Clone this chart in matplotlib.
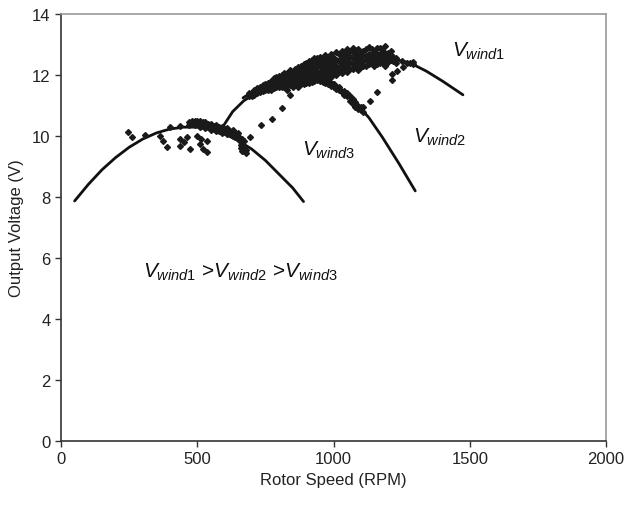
import matplotlib
matplotlib.use("Agg")
import matplotlib.pyplot as plt

plt.rcParams["font.family"] = ["Liberation Sans", "DejaVu Sans"]
plt.rcParams["mathtext.fontset"] = "custom"
plt.rcParams["mathtext.it"] = "Liberation Sans:italic"
plt.rcParams["mathtext.rm"] = "Liberation Sans"

#######################################################################################
# DATA
#######################################################################################
# fitted curves
wind1_rpm = [668, 720, 780, 850, 920, 1000, 1080, 1160, 1230, 1280, 1340, 1400, 1475]
wind1_v = [11.25, 11.55, 11.85, 12.1, 12.3, 12.48, 12.6, 12.6, 12.5, 12.4, 12.13, 11.8, 11.35]

wind2_rpm = [590, 630, 670, 730, 800, 870, 940, 1000, 1040, 1090, 1130, 1180, 1240, 1300]
wind2_v = [10.25, 10.8, 11.15, 11.5, 11.75, 11.92, 11.97, 11.75, 11.45, 11.0, 10.6, 9.95, 9.1, 8.2]

wind3_rpm = [50, 100, 150, 200, 250, 300, 350, 400, 450, 500, 550, 600, 650, 700,
             750, 800, 850, 890]
wind3_v = [7.87, 8.41, 8.89, 9.29, 9.63, 9.9, 10.1, 10.23, 10.29, 10.29, 10.21, 10.07,
           9.85, 9.57, 9.2, 8.75, 8.3, 7.85]

# measured points, grouped by rpm column
meas_wind3 = {
    246: [10.13], 260: [9.97], 308: [10.03], 363: [10.0], 374: [9.84], 389: [9.64],
    400: [10.3], 437: [10.33, 9.9, 9.68], 450: [9.8], 462: [9.97], 473: [9.57],
    470: [10.35, 10.45], 480: [10.4, 10.5], 490: [10.35, 10.45, 10.5], 499: [10.0],
    500: [10.38, 10.48], 510: [10.3, 10.4, 10.5, 9.74], 515: [9.9], 521: [9.57],
    520: [10.33, 10.45], 530: [10.25, 10.35, 10.45], 536: [9.48, 9.84],
    540: [10.3, 10.4], 550: [10.2, 10.3, 10.4], 560: [10.22, 10.33],
    570: [10.15, 10.25, 10.35], 580: [10.18, 10.28], 590: [10.1, 10.2, 10.3],
    600: [10.12, 10.22], 610: [10.05, 10.15, 10.25], 620: [10.08, 10.18],
    630: [10.0, 10.1, 10.2], 640: [9.98, 10.1], 650: [9.9, 10.0, 10.1],
    660: [9.6, 9.7, 9.8], 665: [9.9, 9.5], 670: [9.5, 9.65, 9.85], 680: [9.45, 9.55],
}
meas_transition = {
    694: [9.98], 735: [10.36], 774: [10.56], 811: [10.93], 840: [11.36],
    1134: [11.15], 1159: [11.43], 1214: [11.82, 12.02], 1233: [12.13],
    1255: [12.26], 1281: [12.4],
}
meas_wind12 = {
    690: [11.3, 11.4], 700: [11.32, 11.42], 710: [11.35, 11.45, 11.5],
    720: [11.4, 11.5, 11.56], 730: [11.45, 11.55, 11.6], 740: [11.48, 11.58, 11.66],
    750: [11.5, 11.6, 11.7], 760: [11.52, 11.64, 11.75], 770: [11.5, 11.55, 11.7, 11.8],
    780: [11.58, 11.68, 11.8, 11.9], 790: [11.6, 11.75, 11.85, 11.95],
    800: [11.62, 11.72, 11.8, 11.9, 11.98], 810: [11.6, 11.7, 11.85, 11.95, 12.0],
    820: [11.62, 11.75, 11.88, 12.0, 12.08], 830: [11.5, 11.65, 11.8, 11.9, 12.05],
    840: [11.68, 11.78, 11.92, 12.05, 12.15], 850: [11.6, 11.7, 11.85, 12.0, 12.1],
    860: [11.72, 11.82, 11.95, 12.08, 12.2], 870: [11.6, 11.75, 11.9, 12.0, 12.15, 12.25],
    880: [11.72, 11.8, 11.95, 12.05, 12.18, 12.3],
    890: [11.7, 11.85, 12.0, 12.1, 12.25, 12.35],
    900: [11.75, 11.88, 12.02, 12.15, 12.28, 12.4],
    910: [11.75, 11.9, 12.05, 12.2, 12.3, 12.45],
    920: [11.78, 11.92, 12.08, 12.22, 12.35, 12.5],
    930: [11.8, 11.95, 12.1, 12.25, 12.4, 12.55],
    940: [11.82, 11.98, 12.12, 12.28, 12.42, 12.56],
    950: [11.8, 11.95, 12.1, 12.3, 12.45, 12.6],
    960: [11.78, 11.9, 12.02, 12.18, 12.4, 12.55],
    970: [11.75, 11.9, 12.05, 12.2, 12.35, 12.5, 12.65],
    980: [11.7, 11.8, 12.0, 12.15, 12.3, 12.45, 12.6],
    990: [11.65, 11.95, 12.1, 12.25, 12.4, 12.6, 12.7],
    1000: [11.6, 11.7, 12.05, 12.2, 12.35, 12.55],
    1010: [11.55, 12.0, 12.15, 12.3, 12.5, 12.75],
    1020: [11.5, 11.6, 12.1, 12.25, 12.45, 12.68],
    1030: [11.45, 12.05, 12.2, 12.4, 12.6, 12.8],
    1040: [11.35, 11.48, 12.15, 12.35, 12.55, 12.72],
    1050: [11.3, 11.4, 12.1, 12.25, 12.45, 12.65, 12.85],
    1060: [11.15, 11.3, 12.2, 12.4, 12.6, 12.8],
    1070: [11.05, 11.2, 12.2, 12.35, 12.55, 12.75, 12.9],
    1080: [10.95, 11.1, 12.25, 12.42, 12.62, 12.82],
    1090: [10.9, 11.0, 12.15, 12.3, 12.5, 12.7, 12.85],
    1100: [10.85, 10.95, 12.25, 12.4, 12.58, 12.75],
    1110: [10.8, 10.95, 12.3, 12.45, 12.65, 12.8],
    1120: [12.3, 12.5, 12.62, 12.85],
    1130: [12.35, 12.55, 12.7, 12.92], 1140: [12.4, 12.5, 12.65, 12.85],
    1150: [12.3, 12.45, 12.6, 12.8], 1160: [12.35, 12.5, 12.68, 12.88],
    1170: [12.4, 12.55, 12.7, 12.9], 1180: [12.38, 12.5, 12.65, 12.8],
    1190: [12.3, 12.45, 12.6, 12.95], 1200: [12.42, 12.55, 12.72],
    1210: [12.5, 12.65, 12.8], 1220: [12.45, 12.6], 1230: [12.4, 12.55], 1250: [12.45],
    1270: [12.4], 1290: [12.35, 12.42],
}
#######################################################################################


def flatten(groups):
    xs, ys = [], []
    for rpm, volts in groups.items():
        for v in volts:
            xs.append(rpm)
            ys.append(v)
    return xs, ys


fig = plt.figure(figsize=(6.25, 5.06), dpi=100)
ax = fig.add_axes([61 / 625, 64 / 506, 545 / 625, 427 / 506])

for rpm, volts in [(wind1_rpm, wind1_v), (wind2_rpm, wind2_v), (wind3_rpm, wind3_v)]:
    ax.plot(rpm, volts, color="#111111", lw=2.0, solid_capstyle="round")

for groups in [meas_wind3, meas_transition, meas_wind12]:
    mx, my = flatten(groups)
    ax.plot(mx, my, ls="none", marker="D", ms=3.0, color="#1a1a1a", mec="#1a1a1a")

ax.set_xlim(0, 2000)
ax.set_ylim(0, 14)
ax.set_xticks([0, 500, 1000, 1500, 2000])
ax.set_yticks(range(0, 15, 2))
ax.tick_params(direction="out", length=4, width=1, colors="#333333",
               labelsize=12, labelcolor="#222222", top=False, right=False)
ax.spines["left"].set_color("#333333")
ax.spines["bottom"].set_color("#333333")
ax.spines["top"].set_color("#9a9a9a")
ax.spines["right"].set_color("#9a9a9a")
for sp in ax.spines.values():
    sp.set_linewidth(1.2)

ax.set_xlabel("Rotor Speed (RPM)", fontsize=12, color="#222222", labelpad=4)
ax.set_ylabel("Output Voltage (V)", fontsize=12, color="#222222", labelpad=6)

lab = dict(fontsize=15, color="#111111", va="baseline", ha="left")
ax.text(1435, 12.62, r"$V_{wind1}$", **lab)
ax.text(1292, 9.8, r"$V_{wind2}$", **lab)
ax.text(884, 9.38, r"$V_{wind3}$", **lab)
ax.text(300, 5.38, r"$V_{wind1}$ >$V_{wind2}$ >$V_{wind3}$", **lab)

fig.savefig("out.png", dpi=100)
